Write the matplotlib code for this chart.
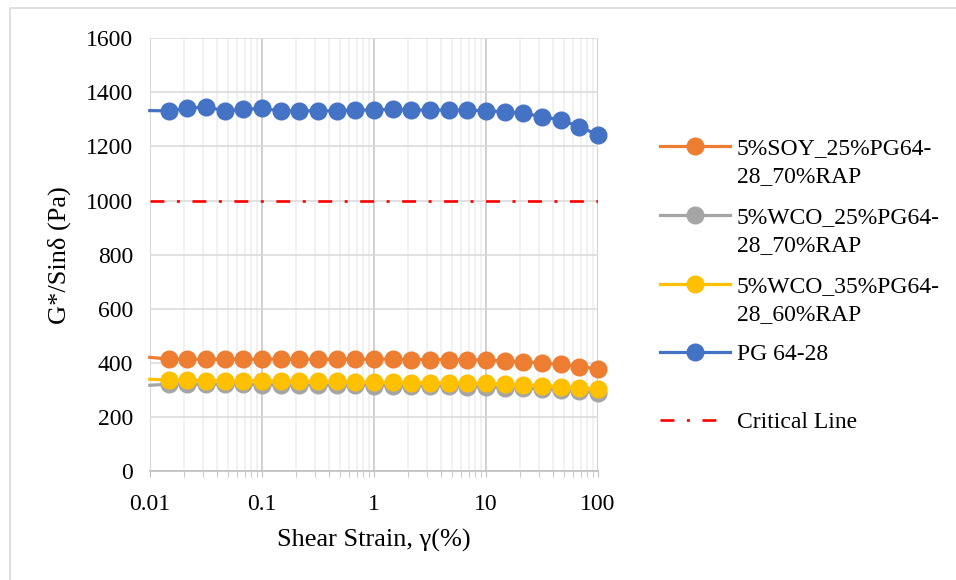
import matplotlib.pyplot as plt
from matplotlib.lines import Line2D
from matplotlib.patches import Rectangle
from matplotlib.ticker import LogLocator, FuncFormatter, NullFormatter, MultipleLocator

plt.rcParams['font.family'] = ['Liberation Serif', 'DejaVu Serif']
plt.rcParams['lines.scale_dashes'] = False

# shear strain (%) - first point sits just left of the axis start
strain = [0.00995, 0.0147, 0.0215, 0.0316, 0.0464, 0.0681, 0.1, 0.147, 0.215,
          0.316, 0.464, 0.681, 1.0, 1.47, 2.15, 3.16, 4.64, 6.81, 10.0, 14.7,
          21.5, 31.6, 46.4, 68.1, 100.0]

soy_25_70 = [421, 415, 414, 414, 414, 414, 414, 414, 414, 414, 414, 414, 414,
             414, 413, 413, 413, 412, 411, 408, 405, 400, 395, 387, 378]
wco_25_70 = [318, 322, 322, 321, 321, 321, 320, 320, 319, 319, 318, 318, 317,
             316, 315, 315, 314, 313, 312, 309, 307, 304, 300, 296, 290]
wco_35_60 = [340, 337, 336, 335, 335, 335, 334, 334, 333, 333, 332, 331, 330,
             329, 328, 328, 327, 326, 325, 322, 320, 317, 313, 309, 303]
pg_64_28 = [1332, 1331, 1340, 1346, 1331, 1337, 1340, 1331, 1331, 1331, 1331,
            1334, 1334, 1337, 1334, 1334, 1334, 1334, 1331, 1328, 1322, 1310,
            1297, 1273, 1242]
critical_value = 1000

labels = ["5%SOY_25%PG64-\n28_70%RAP", "5%WCO_25%PG64-\n28_70%RAP",
          "5%WCO_35%PG64-\n28_60%RAP", "PG 64-28", "Critical Line"]
colors = ["#ED7D31", "#A5A5A5", "#FFC000", "#4472C4"]
series = [soy_25_70, wco_25_70, wco_35_60, pg_64_28]

W, H = 956, 580
FS = 17
red_dash = (0, (10, 9, 2.2, 9))

fig = plt.figure(figsize=(W / 100, H / 100), dpi=100)
ax = fig.add_axes([150 / W, 1 - 471.4 / H, (598 - 150) / W, (471.4 - 38) / H])

for vals, c in zip(series, colors):
    ax.plot(strain, vals, color=c, lw=2.3, marker='o', ms=12, mec=c, mfc=c,
            markevery=slice(1, None), zorder=3, clip_on=False)
ax.axhline(critical_value, color='#FF0000', lw=1.9, linestyle=red_dash,
           dash_capstyle='butt', zorder=4)

ax.set_xscale('log')
ax.set_xlim(0.01, 100)
ax.set_ylim(0, 1600)
ax.yaxis.set_major_locator(MultipleLocator(200))
ax.xaxis.set_major_locator(LogLocator(base=10))
ax.xaxis.set_minor_locator(LogLocator(base=10, subs=range(2, 10)))
ax.xaxis.set_major_formatter(FuncFormatter(lambda v, p: '%g' % v))
ax.xaxis.set_minor_formatter(NullFormatter())

ax.grid(axis='y', color='#D9D9D9', lw=1.1)
ax.grid(axis='x', which='major', color='#CDCDCD', lw=1.3)
ax.grid(axis='x', which='minor', color='#EDEDED', lw=1.1)
ax.set_axisbelow(True)

for s in ['top', 'right']:
    ax.spines[s].set_visible(False)
ax.spines['left'].set_color('#D9D9D9')
ax.spines['bottom'].set_color('#BFBFBF')
ax.spines['bottom'].set_linewidth(1.2)

ax.tick_params(axis='y', length=0, pad=12, labelsize=FS)
ax.tick_params(axis='x', which='both', direction='out', length=4,
               color='#BFBFBF', pad=12, labelsize=FS)

ax.set_xlabel("Shear Strain, γ(%)", fontsize=19, labelpad=10)
ax.set_ylabel("G*/Sinδ (Pa)", fontsize=19, labelpad=11)

# legend drawn by hand so the symbol sits on the first text line
tf = fig.transFigure
entry_y = [146, 215, 284, 352, 420]
for i, ey in enumerate(entry_y):
    if i < 4:
        fig.add_artist(Line2D([660 / W, 730 / W], [1 - ey / H, 1 - ey / H],
                              transform=tf, color=colors[i], lw=2.3))
        fig.add_artist(Line2D([695 / W], [1 - ey / H], transform=tf,
                              color=colors[i], marker='o', ms=12))
    else:
        fig.add_artist(Line2D([660 / W, 720 / W], [1 - ey / H, 1 - ey / H],
                              transform=tf, color='#FF0000', lw=1.9,
                              linestyle=red_dash, dash_capstyle='butt'))
    for j, line in enumerate(labels[i].split('\n')):
        fig.text(737 / W, 1 - (ey + 8 + 28 * j) / H, line, fontsize=FS,
                 va='baseline', ha='left')

fig.add_artist(Rectangle((10 / W, -0.1), 1.2, 1 + 0.1 - 8 / H, transform=tf,
                         fill=False, edgecolor='#D9D9D9', lw=1.2))

fig.savefig('out.png', dpi=100)
